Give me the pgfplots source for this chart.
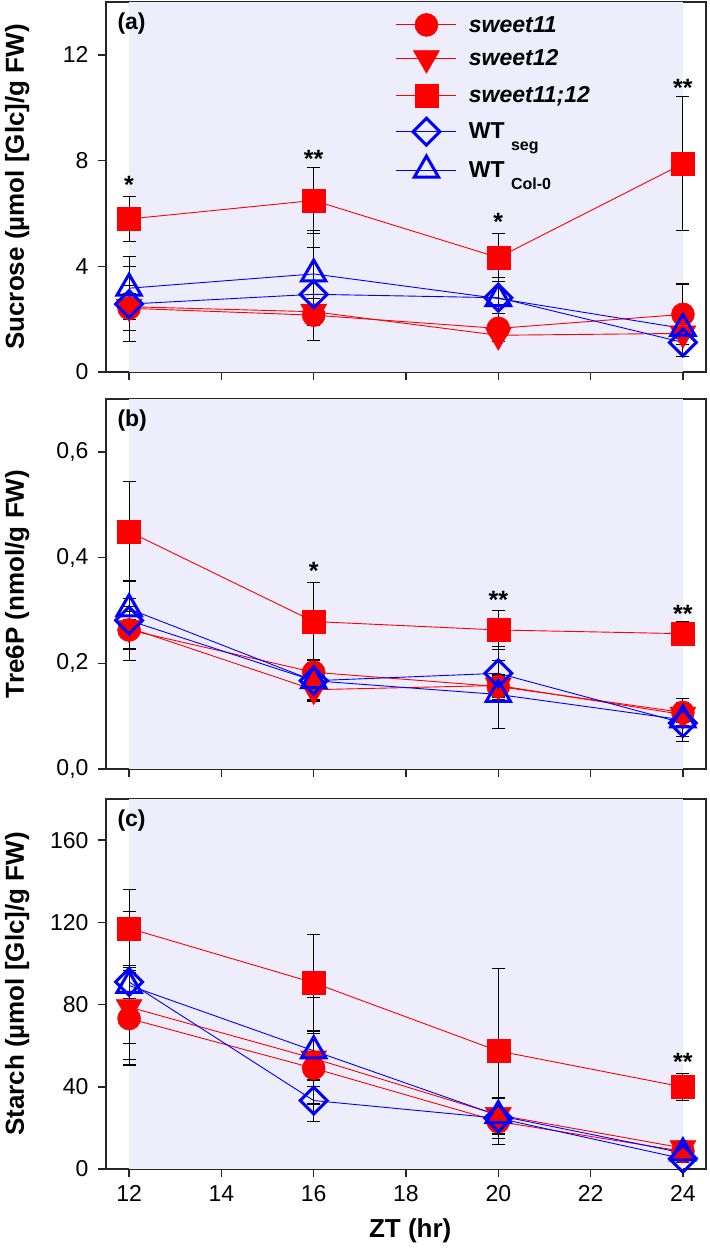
\documentclass[border=0pt]{standalone}
\usepackage{pgfplots}
\pgfplotsset{compat=1.18}
\usepackage{fontspec}
\setmainfont{Liberation Sans}
\definecolor{shade}{RGB}{237,237,251}
\definecolor{myred}{RGB}{255,0,0}
\definecolor{myblue}{RGB}{0,0,255}
\tikzset{plab/.style={anchor=north west, font=\bfseries\fontsize{23}{25}\selectfont, xshift=8pt, yshift=-7pt}}
\pgfplotsset{
  base/.style={
    width=600pt, height=370pt, scale only axis, clip=false,
    xmin=11.5, xmax=24.5, xtick={12,14,...,24},
    tick align=outside, tick pos=left, major tick length=8pt,
    axis line style={line width=1.5pt, black!85},
    tick style={line width=1.5pt, black!85},
    tick label style={font=\fontsize{23}{25}\selectfont},
    yticklabel style={xshift=-6pt},
    xticklabel style={yshift=-5pt},
    /pgf/number format/assume math mode=true,
    ylabel style={font=\bfseries\fontsize{26}{28}\selectfont, at={(axis description cs:-0.148,0.5)}, anchor=center},
    error bars/y dir=both, error bars/y explicit,
    error bars/error bar style={black, line width=1.1pt},
    error bars/error mark options={rotate=90, black, mark size=6.5pt, line width=1.1pt},
  },
  s11/.style={myred, line width=0.9pt, mark=*, mark size=11.5pt, mark options={fill=myred, draw=myred, line width=0.5pt}},
  s12/.style={myred, line width=0.9pt, mark=triangle*, mark size=15pt, mark options={rotate=180, fill=myred, draw=myred, line width=0.5pt}},
  s1112/.style={myred, line width=0.9pt, mark=square*, mark size=11.5pt, mark options={fill=myred, draw=myred, line width=0.5pt}},
  wts/.style={myblue, line width=0.9pt, mark=square, mark size=9.5pt, mark options={rotate=45, fill=white, draw=myblue, line width=3pt}},
  wtc/.style={myblue, line width=0.9pt, mark=triangle, mark size=14pt, mark options={fill=white, draw=myblue, line width=3pt}},
  stars/.style={draw=none, mark=none, forget plot, nodes near coords, point meta=explicit symbolic,
    every node near coord/.append style={anchor=center, font=\bfseries\fontsize{25}{27}\selectfont, yshift=-5pt, black}},
  bg/.style={draw=none, fill=shade, mark=none, forget plot},
}
\begin{document}
\begin{tikzpicture}
\useasboundingbox (-106pt,-83pt) rectangle (603pt,1169pt);
% ---------------- (a) Sucrose ----------------
\begin{axis}[base, at={(0pt,797pt)}, anchor=south west,
  ymin=0, ymax=14, ytick={0,4,8,12}, xticklabels={},
  ylabel={Sucrose (µmol [Glc]/g FW)},
  legend style={at={(axis description cs:0.478,0.975)}, anchor=north west, draw=none, fill=none,
    font=\bfseries\fontsize{23}{25}\selectfont, row sep=11pt, cells={anchor=west}},
  legend image code/.code={\draw[mark repeat=2,mark phase=2] plot coordinates {(0pt,0pt)(30pt,0pt)(60pt,0pt)}; \path (70pt,0pt);},
]
\addplot[bg] coordinates {(12,14) (24,14)} \closedcycle;
\addplot[s11] coordinates {(12,2.41) +- (0,0.85) (16,2.15) +- (0,0.4) (20,1.65) +- (0,0.2) (24,2.18) +- (0,1.15)};
\addlegendentry{\textit{sweet11}}
\addplot[s12] coordinates {(12,2.47) +- (0,0.5) (16,2.28) +- (0,0.5) (20,1.39) +- (0,0.25) (24,1.46) +- (0,0.2)};
\addlegendentry{\textit{sweet12}}
\addplot[s1112] coordinates {(12,5.79) +- (0,0.85) (16,6.49) +- (0,1.24) (20,4.33) +- (0,0.9) (24,7.88) +- (0,2.53)};
\addlegendentry{\textit{sweet11;12}}
\addplot[wts] coordinates {(12,2.57) +- (0,1.42) (16,2.94) +- (0,1.76) (20,2.81) +- (0,0.6) (24,1.12) +- (0,0.55)};
\addlegendentry{WT \raisebox{-12pt}{\fontsize{16}{17}\selectfont seg}}
\addplot[wtc] coordinates {(12,3.17) +- (0,1.2) (16,3.71) +- (0,1.64) (20,2.78) +- (0,0.8) (24,1.65) +- (0,0.3)};
\addlegendentry{WT \raisebox{-12pt}{\fontsize{16}{17}\selectfont Col-0}}
\addplot[stars] coordinates {(12,7.26) [*] (16,8.27) [**] (20,5.85) [*] (24,10.94) [**]};
\node[plab] at (rel axis cs:0,1) {(a)};
\end{axis}
% ---------------- (b) Tre6P ----------------
\begin{axis}[base, at={(0pt,400pt)}, anchor=south west,
  ymin=0, ymax=0.7, ytick={0,0.2,0.4,0.6}, yticklabels={{0,0},{0,2},{0,4},{0,6}}, xticklabels={},
  ylabel={Tre6P (nmol/g FW)},
]
\addplot[bg] coordinates {(12,0.7) (24,0.7)} \closedcycle;
\addplot[s11] coordinates {(12,0.263) +- (0,0.035) (16,0.183) +- (0,0.023) (20,0.156) +- (0,0.02) (24,0.107) +- (0,0.018)};
\addplot[s12] coordinates {(12,0.267) +- (0,0.04) (16,0.150) +- (0,0.02) (20,0.158) +- (0,0.02) (24,0.103) +- (0,0.02)};
\addplot[s1112] coordinates {(12,0.449) +- (0,0.095) (16,0.279) +- (0,0.073) (20,0.263) +- (0,0.037) (24,0.256) +- (0,0.023)};
\addplot[wts] coordinates {(12,0.281) +- (0,0.075) (16,0.167) +- (0,0.035) (20,0.181) +- (0,0.05) (24,0.087) +- (0,0.025)};
\addplot[wtc] coordinates {(12,0.303) +- (0,0.02) (16,0.167) +- (0,0.04) (20,0.141) +- (0,0.064) (24,0.093) +- (0,0.041)};
\addplot[stars] coordinates {(16,0.385) [*] (20,0.330) [**] (24,0.303) [**]};
\node[plab] at (rel axis cs:0,1) {(b)};
\end{axis}
% ---------------- (c) Starch ----------------
\begin{axis}[base, at={(0pt,0pt)}, anchor=south west,
  ymin=0, ymax=180, ytick={0,40,...,160},
  ylabel={Starch (µmol [Glc]/g FW)},
  xlabel={ZT (hr)},
  xlabel style={font=\bfseries\fontsize{26}{28}\selectfont, at={(axis description cs:0.507,0)}, anchor=center, yshift=-62pt},
]
\addplot[bg] coordinates {(12,180) (24,180)} \closedcycle;
\addplot[s11] coordinates {(12,73.2) +- (0,22.6) (16,49.0) +- (0,17) (20,23.1) +- (0,11) (24,8.6) +- (0,2)};
\addplot[s12] coordinates {(12,78.8) +- (0,17.8) (16,53.8) +- (0,13.7) (20,26.3) +- (0,8) (24,10.2) +- (0,2)};
\addplot[s1112] coordinates {(12,117.1) +- (0,19) (16,90.6) +- (0,23.5) (20,57.4) +- (0,40.2) (24,39.9) +- (0,6.4)};
\addplot[wts] coordinates {(12,91.0) +- (0,8) (16,33.3) +- (0,10) (20,24.7) +- (0,10) (24,5.0) +- (0,2)};
\addplot[wtc] coordinates {(12,89.3) +- (0,36) (16,57.5) +- (0,26) (20,26.0) +- (0,9) (24,7.8) +- (0,2)};
\addplot[stars] coordinates {(24,54.6) [**]};
\node[plab] at (rel axis cs:0,1) {(c)};
\end{axis}
\end{tikzpicture}
\end{document}
